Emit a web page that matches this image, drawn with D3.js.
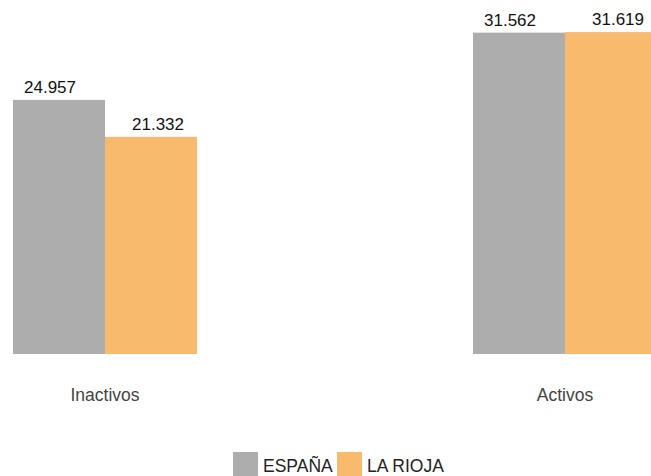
<!DOCTYPE html>
<html><head><meta charset="utf-8">
<script src="https://cdn.jsdelivr.net/npm/d3@7"></script>
<style>body{margin:0;background:#fff;}svg{display:block;font-family:"Liberation Sans",Arial,sans-serif;}</style>
</head><body><svg id="c" width="651" height="476"></svg>
<script>
const categories = ["Inactivos", "Activos"];
const series = ["ESPAÑA", "LA RIOJA"];
const espana = [24.957, 31.562];
const larioja = [21.332, 31.619];
const colors = ["#adadad", "#f8ba6c"];

const svg = d3.select("#c");
const W = 651, baseY = 354;
const x0 = d3.scalePoint().domain(categories).range([105, 565]);
const x1 = d3.scaleBand().domain(series).range([-92, 92]).paddingInner(0);
const y = d3.scaleLinear().domain([0, 34.77]).range([baseY, 0]);
const fmt = d3.format(".3f");

svg.append("defs").append("clipPath").attr("id","pc").append("rect").attr("x",0).attr("y",0).attr("width",W).attr("height",476);
const vals = [espana, larioja];
const g = svg.append("g").attr("clip-path","url(#pc)");
const labelOff = [-9, 7];
series.forEach((s, si) => {
  categories.forEach((c, ci) => {
    const v = vals[si][ci];
    const bx = x0(c) + x1(s);
    g.append("rect").attr("x", bx).attr("y", y(v)).attr("width", x1.bandwidth()).attr("height", baseY - y(v)).attr("fill", colors[si]);
    svg.append("text").attr("x", bx + x1.bandwidth()/2 + labelOff[si]).attr("y", y(v) - 7)
      .attr("text-anchor","middle").attr("font-size",17).attr("fill","#111").text(fmt(v));
  });
});

categories.forEach(c => {
  svg.append("text").attr("x", x0(c)).attr("y", 401).attr("text-anchor","middle")
    .attr("font-size",17.5).attr("fill","#444").text(c);
});

const legX = [233, 337];
series.forEach((s, i) => {
  svg.append("rect").attr("x", legX[i]).attr("y", 452).attr("width", 25).attr("height", 24).attr("fill", colors[i]);
  svg.append("text").attr("x", legX[i] + 30).attr("y", 472).attr("font-size",17.5).attr("fill","#222").text(s);
});
</script></body></html>
